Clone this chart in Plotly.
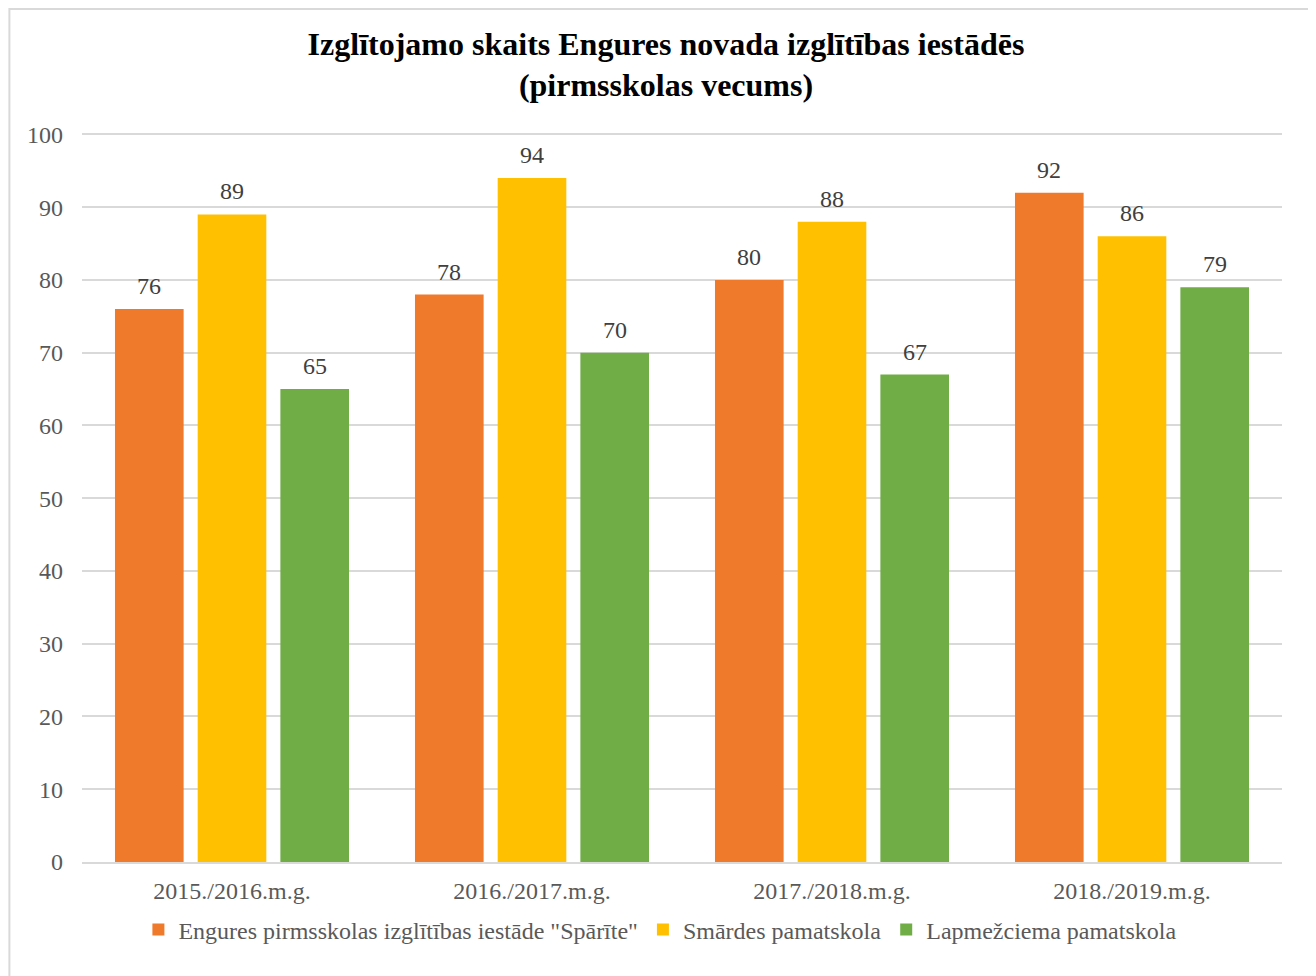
import plotly.graph_objects as go

categories = ["2015./2016.m.g.", "2016./2017.m.g.", "2017./2018.m.g.", "2018./2019.m.g."]
series_names = [
    'Engures pirmsskolas izglītības iestāde "Spārīte"',
    "Smārdes pamatskola",
    "Lapmežciema pamatskola",
]
sparite = [76, 78, 80, 92]
smardes = [89, 94, 88, 86]
lapmezciems = [65, 70, 67, 79]
colors = ["#F07A2C", "#FFC000", "#70AD47"]

FONT = "Liberation Serif"
BARGAP = 0.173
all_series = [sparite, smardes, lapmezciems]

fig = go.Figure()
for name, vals, col in zip(series_names, all_series, colors):
    fig.add_trace(go.Bar(
        x=categories, y=vals, name=name,
        marker=dict(color=col, line=dict(width=0)),
        cliponaxis=False,
    ))

# value labels above each bar (bar centres follow the grouped-bar layout)
slot = (1 - BARGAP) / len(all_series)
annotations = []
for k, vals in enumerate(all_series):
    for i, v in enumerate(vals):
        annotations.append(dict(
            x=i + (k - 1) * slot, y=v, xref="x", yref="y",
            text=str(v), showarrow=False, yanchor="middle", yshift=23,
            font=dict(family=FONT, size=24, color="#404040"),
        ))

fig.update_layout(
    width=1316, height=976,
    paper_bgcolor="white", plot_bgcolor="white",
    margin=dict(l=74, r=42, t=125, b=122),
    barmode="group", bargap=BARGAP, bargroupgap=0.17,
    title=dict(
        text="<b>Izglītojamo skaits Engures novada izglītības iestādēs<br>(pirmsskolas vecums)</b>",
        x=0.5, xanchor="center", y=0.952, yanchor="middle",
        font=dict(family=FONT, size=32, color="black"),
    ),
    font=dict(family=FONT, size=24, color="#595959"),
    legend=dict(
        orientation="h", x=0.482, xanchor="center", y=-0.093, yanchor="middle",
        font=dict(family=FONT, size=24, color="#595959"),
        traceorder="normal", itemwidth=30,
    ),
    showlegend=True,
    annotations=annotations,
)
fig.update_yaxes(
    range=[0, 100.2], tickvals=list(range(0, 101, 10)), showgrid=True,
    gridcolor="#D9D9D9", gridwidth=1.5,
    zeroline=False, showline=False, ticks="", ticklabelstandoff=18,
    tickfont=dict(family=FONT, size=24, color="#595959"),
)
fig.update_xaxes(
    showline=True, linecolor="#D9D9D9", linewidth=2, ticks="",
    tickfont=dict(family=FONT, size=24, color="#595959"),
    ticklabelstandoff=6,
)
fig.add_shape(type="rect", xref="paper", yref="paper",
              x0=-0.0605, x1=1.024, y0=-0.16, y1=1.170,
              line=dict(color="#D9D9D9", width=2), fillcolor="rgba(0,0,0,0)", layer="below")

fig.write_html("out.html")
